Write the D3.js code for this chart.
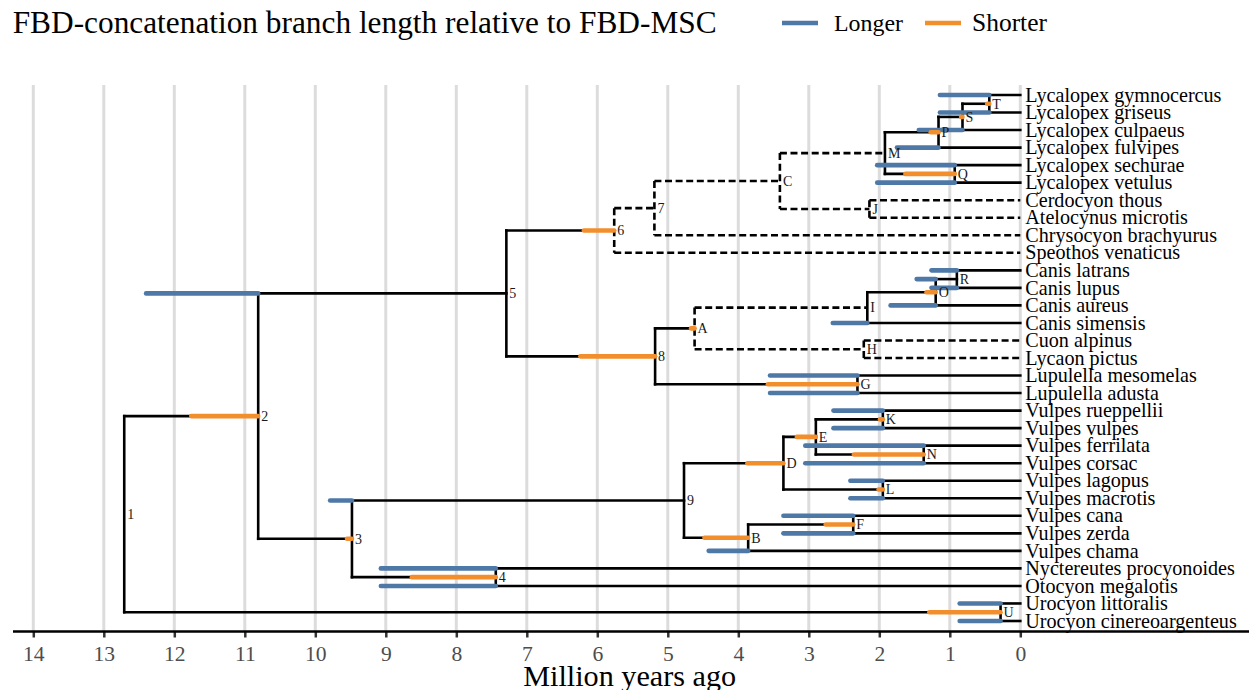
<!DOCTYPE html>
<html>
<head>
<meta charset="utf-8">
<script src="https://cdn.jsdelivr.net/npm/d3@7"></script>
<style>
  html, body { margin: 0; padding: 0; background: #fff; }
  svg { display: block; }
</style>
</head>
<body>
<svg id="chart" width="1249" height="690"></svg>
<script>
// ---------------- DATA ----------------
const titleText = "FBD-concatenation branch length relative to FBD-MSC";
const legendLabels = ["Longer", "Shorter"];
const axisTitle = "Million years ago";
const tickValues = [14, 13, 12, 11, 10, 9, 8, 7, 6, 5, 4, 3, 2, 1, 0];

const tipNames = [
  "Lycalopex gymnocercus", "Lycalopex griseus", "Lycalopex culpaeus", "Lycalopex fulvipes",
  "Lycalopex sechurae", "Lycalopex vetulus", "Cerdocyon thous", "Atelocynus microtis",
  "Chrysocyon brachyurus", "Speothos venaticus", "Canis latrans", "Canis lupus",
  "Canis aureus", "Canis simensis", "Cuon alpinus", "Lycaon pictus",
  "Lupulella mesomelas", "Lupulella adusta", "Vulpes rueppellii", "Vulpes vulpes",
  "Vulpes ferrilata", "Vulpes corsac", "Vulpes lagopus", "Vulpes macrotis",
  "Vulpes cana", "Vulpes zerda", "Vulpes chama", "Nyctereutes procyonoides",
  "Otocyon megalotis", "Urocyon littoralis", "Urocyon cinereoargenteus"
];

const nodeIds = ["1","2","5","6","7","C","M","P","S","T","Q","J","8","A","I","O","R","H","G","3","9","D","E","K","N","L","B","F","4","U"];
const nodeAges = [12.71,10.81,7.29,5.76,5.19,3.41,1.92,1.16,0.82,0.44,0.93,2.14,5.18,4.62,2.17,1.20,0.90,2.22,2.31,9.48,4.77,3.36,2.90,1.95,1.37,1.95,3.86,2.37,7.44,0.28];
const nodeChildren = [
  ["2","U"], ["5","3"], ["6","8"], ["7","Speothos venaticus"], ["C","Chrysocyon brachyurus"],
  ["M","J"], ["P","Q"], ["S","Lycalopex fulvipes"], ["T","Lycalopex culpaeus"],
  ["Lycalopex gymnocercus","Lycalopex griseus"], ["Lycalopex sechurae","Lycalopex vetulus"],
  ["Cerdocyon thous","Atelocynus microtis"], ["A","G"], ["I","H"], ["O","Canis simensis"],
  ["R","Canis aureus"], ["Canis latrans","Canis lupus"], ["Cuon alpinus","Lycaon pictus"],
  ["Lupulella mesomelas","Lupulella adusta"], ["9","4"], ["D","B"], ["E","L"], ["K","N"],
  ["Vulpes rueppellii","Vulpes vulpes"], ["Vulpes ferrilata","Vulpes corsac"],
  ["Vulpes lagopus","Vulpes macrotis"], ["F","Vulpes chama"], ["Vulpes cana","Vulpes zerda"],
  ["Nyctereutes procyonoides","Otocyon megalotis"], ["Urocyon littoralis","Urocyon cinereoargenteus"]
];
const dashedNodes = ["6","7","C","J","A","H"];

// branch-length differences (Myr): branch identified by its child node
const barBranches = [
  "Lycalopex gymnocercus","Lycalopex griseus","T","S","Lycalopex culpaeus","P","Lycalopex fulvipes",
  "Lycalopex sechurae","Lycalopex vetulus","Q",
  "Canis latrans","Canis lupus","R","O","Canis aureus","Canis simensis","A","8","G",
  "Lupulella mesomelas","Lupulella adusta",
  "Vulpes rueppellii","Vulpes vulpes","K","E","Vulpes ferrilata","Vulpes corsac","N","D","L",
  "Vulpes lagopus","Vulpes macrotis","9","F","Vulpes cana","Vulpes zerda","B","Vulpes chama",
  "5","2","3","4","Nyctereutes procyonoides","Otocyon megalotis","U",
  "Urocyon littoralis","Urocyon cinereoargenteus","6"
];
const barTypes = [
  "Longer","Longer","Shorter","Shorter","Longer","Shorter","Longer",
  "Longer","Longer","Shorter",
  "Longer","Longer","Longer","Shorter","Longer","Longer","Shorter","Shorter","Shorter",
  "Longer","Longer",
  "Longer","Longer","Shorter","Shorter","Longer","Longer","Shorter","Shorter","Shorter",
  "Longer","Longer","Longer","Shorter","Longer","Longer","Shorter","Longer",
  "Longer","Shorter","Shorter","Shorter","Longer","Longer","Shorter",
  "Longer","Longer","Shorter"
];
const barDiffs = [
  0.70,0.70,0.03,0.02,0.62,0.11,0.59,
  1.10,1.10,0.70,
  0.36,0.36,0.27,0.13,0.64,0.49,0.05,1.06,1.27,
  1.24,1.24,
  0.70,0.70,0.04,0.27,1.68,1.68,0.99,0.51,0.06,
  0.46,0.46,0.31,0.39,0.99,0.99,0.62,0.56,
  1.59,0.95,0.07,1.19,1.63,1.63,1.01,
  0.58,0.58,0.43
];

// ---------------- LAYOUT ----------------
const colors = { Longer: "#4e79a7", Shorter: "#f28e2b" };
const SERIF = "'Liberation Serif', 'Times New Roman', serif";

const svg = d3.select("#chart");
const x = d3.scaleLinear().domain([14, 0]).range([33.3, 1020.3]);
const y = d3.scaleLinear().domain([0, tipNames.length - 1]).range([95, 621]);

const age = new Map(), children = new Map(), parent = new Map();
tipNames.forEach(t => age.set(t, 0));
nodeIds.forEach((n, i) => { age.set(n, nodeAges[i]); children.set(n, nodeChildren[i]); });
nodeChildren.forEach((ch, i) => ch.forEach(c => parent.set(c, nodeIds[i])));
const yIdx = new Map();
tipNames.forEach((t, i) => yIdx.set(t, i));
function getY(n) {
  if (yIdx.has(n)) return yIdx.get(n);
  const ch = children.get(n);
  const v = (getY(ch[0]) + getY(ch[ch.length - 1])) / 2;
  yIdx.set(n, v);
  return v;
}
nodeIds.forEach(getY);

function fitSize(text, target, base) {
  const t = svg.append("text").attr("font-family", SERIF).attr("font-size", base).text(text);
  const w = t.node().getComputedTextLength();
  t.remove();
  return base * target / w;
}

// grid
svg.append("g").selectAll("line").data(tickValues).join("line")
  .attr("x1", d => x(d)).attr("x2", d => x(d))
  .attr("y1", 85).attr("y2", 631)
  .attr("stroke", "#dcdcdc").attr("stroke-width", 3);

// axis
const axisY = 631.5;
const axis = d3.axisBottom(x).tickValues(tickValues).tickSize(6).tickFormat(d3.format("d"));
const ag = svg.append("g").attr("transform", `translate(0,${axisY})`).call(axis);
ag.select(".domain").remove();
ag.selectAll(".tick line").attr("stroke", "#333").attr("stroke-width", 2.5);
const tickSize = fitSize("14", 21.6, 20);
ag.selectAll(".tick text").attr("fill", "#4d4d4d").attr("font-family", SERIF)
  .attr("font-size", tickSize).attr("y", 29.5).attr("dy", 0);
svg.append("line").attr("x1", 13).attr("x2", 1249).attr("y1", axisY).attr("y2", axisY)
  .attr("stroke", "#000").attr("stroke-width", 2.4);
svg.append("text").attr("x", (523.3 + 736) / 2).attr("y", 686).attr("text-anchor", "middle")
  .attr("font-family", SERIF).attr("font-size", fitSize(axisTitle, 213, 28)).attr("fill", "#000")
  .text(axisTitle);

// tree
const tree = svg.append("g").attr("stroke", "#000").attr("stroke-width", 2.6).attr("fill", "none");
const vert = nodeIds.map(n => {
  const ch = children.get(n);
  return { n, x: x(age.get(n)), y1: y(getY(ch[0])), y2: y(getY(ch[ch.length - 1])), dashed: dashedNodes.includes(n) };
});
const horiz = [];
nodeIds.forEach(n => children.get(n).forEach(c => horiz.push({
  c, x1: x(age.get(n)), x2: x(age.get(c)), y: y(getY(c)), dashed: dashedNodes.includes(n)
})));
tree.selectAll("line.h").data(horiz).join("line").attr("class", "h")
  .attr("x1", d => d.x1).attr("x2", d => d.x2).attr("y1", d => d.y).attr("y2", d => d.y)
  .attr("stroke-dasharray", d => d.dashed ? "7,3.6" : null)
  .attr("stroke-linecap", d => d.dashed ? "butt" : "square");
tree.selectAll("line.v").data(vert).join("line").attr("class", "v")
  .attr("x1", d => d.x).attr("x2", d => d.x).attr("y1", d => d.y1).attr("y2", d => d.y2)
  .attr("stroke-dasharray", d => d.dashed ? "7,3.6" : null)
  .attr("stroke-linecap", d => d.dashed ? "butt" : "square");

// bars
const bars = barBranches.map((b, i) => {
  const type = barTypes[i];
  const start = type === "Longer" ? age.get(parent.get(b)) : age.get(b);
  return { b, type, x1: x(start), x2: x(start + barDiffs[i]), y: y(getY(b)) };
});
svg.append("g").selectAll("line").data(bars).join("line")
  .attr("x1", d => d.x1).attr("x2", d => d.x2).attr("y1", d => d.y).attr("y2", d => d.y)
  .attr("stroke", d => colors[d.type]).attr("stroke-width", 4.6).attr("stroke-linecap", "round");

// node labels
svg.append("g").selectAll("text").data(nodeIds).join("text")
  .attr("x", d => x(age.get(d)) + 3).attr("y", d => y(getY(d))).attr("dy", "0.35em")
  .attr("font-family", SERIF).attr("font-size", 14).attr("fill", "#1a1a1a").text(d => d);

// tip labels
const tipSize = fitSize("Urocyon cinereoargenteus", 211.6, 18);
svg.append("g").selectAll("text").data(tipNames).join("text")
  .attr("x", x(0) + 5).attr("y", (d, i) => y(i)).attr("dy", "0.33em")
  .attr("font-family", SERIF).attr("font-size", tipSize).attr("fill", "#000").text(d => d);

// title
svg.append("text").attr("x", 12.7).attr("y", 32.7).attr("font-family", SERIF)
  .attr("font-size", fitSize(titleText, 704, 24)).attr("fill", "#000").text(titleText);

// legend
const legX = [782, 925], legTextX = [834, 972], legW = [69, 75];
legendLabels.forEach((lab, i) => {
  svg.append("line").attr("x1", legX[i]).attr("x2", legX[i] + 36).attr("y1", 23).attr("y2", 23)
    .attr("stroke", colors[lab]).attr("stroke-width", 4.6);
  svg.append("text").attr("x", legTextX[i]).attr("y", 30.5).attr("font-family", SERIF)
    .attr("font-size", fitSize(lab, legW[i], 22)).attr("fill", "#000").text(lab);
});
</script>
</body>
</html>
